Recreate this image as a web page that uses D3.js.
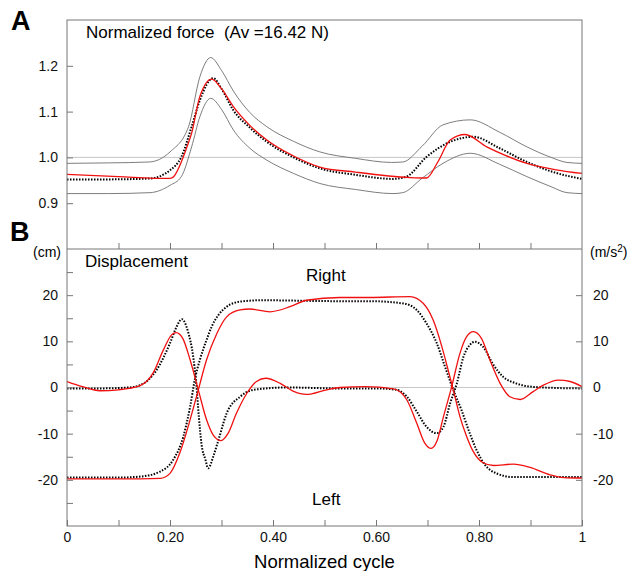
<!DOCTYPE html>
<html>
<head>
<meta charset="utf-8">
<script src="https://cdn.jsdelivr.net/npm/d3@7"></script>
<style>
  body { margin: 0; background: #fff; }
  svg { font-family: "Liberation Sans", Arial, sans-serif; }
  .tick line { stroke: #777; }
  .tick text { fill: #111; font-size: 14px; }
</style>
</head>
<body>
<div class="chart"></div>
<script>
// panel A: normalized force, [cycle, value]
var forceUpper = [[0,0.987],[0.08,0.988],[0.16,0.990],[0.2,1.012],[0.236,1.067],[0.258,1.176],[0.279,1.218],[0.30,1.19],[0.323,1.145],[0.355,1.098],[0.388,1.067],[0.44,1.035],[0.491,1.012],[0.56,0.998],[0.63,0.989],[0.652,0.990],[0.69,1.025],[0.73,1.071],[0.783,1.082],[0.84,1.055],[0.893,1.023],[0.94,1.0],[0.971,0.989],[1,0.987]];
var forceLower = [[0,0.921],[0.08,0.921],[0.161,0.923],[0.2,0.939],[0.222,0.958],[0.242,1.023],[0.258,1.089],[0.279,1.129],[0.30,1.105],[0.323,1.06],[0.355,1.02],[0.388,0.994],[0.44,0.965],[0.491,0.943],[0.56,0.93],[0.633,0.921],[0.652,0.923],[0.69,0.955],[0.73,0.987],[0.783,1.009],[0.84,0.985],[0.893,0.958],[0.94,0.936],[0.971,0.923],[1,0.921]];
var forceModel = [[0,0.963],[0.1,0.958],[0.2,0.954],[0.205,0.956],[0.232,1.02],[0.242,1.053],[0.258,1.133],[0.281,1.171],[0.30,1.15],[0.323,1.111],[0.355,1.07],[0.388,1.038],[0.44,1.003],[0.491,0.979],[0.56,0.968],[0.666,0.956],[0.698,0.955],[0.72,0.99],[0.744,1.038],[0.773,1.05],[0.815,1.023],[0.85,1.005],[0.893,0.987],[0.95,0.973],[1,0.965]];
var forceMeasured = [[0,0.952],[0.08,0.952],[0.161,0.954],[0.2,0.972],[0.222,1.001],[0.242,1.067],[0.258,1.125],[0.284,1.173],[0.30,1.15],[0.323,1.103],[0.355,1.065],[0.388,1.034],[0.44,1.0],[0.491,0.976],[0.56,0.962],[0.633,0.953],[0.659,0.958],[0.698,1.001],[0.744,1.034],[0.789,1.045],[0.84,1.02],[0.893,0.990],[0.95,0.966],[1,0.953]];

// panel B: displacement (cm) and acceleration (m/s2)
var accelMeasured = [[0,-0.2],[0.06,-0.2],[0.12,0.0],[0.142,0.5],[0.174,3.8],[0.2,9.6],[0.213,13.2],[0.223,14.8],[0.235,12.1],[0.245,6.7],[0.251,0.9],[0.256,-6.3],[0.261,-12.1],[0.269,-15.7],[0.274,-17.5],[0.285,-14.6],[0.294,-11.4],[0.31,-5.6],[0.336,-2.0],[0.362,-0.5],[0.427,0],[0.53,-0.2],[0.6,-0.2],[0.64,-0.5],[0.66,-2.0],[0.679,-5.2],[0.698,-8.5],[0.718,-9.9],[0.731,-8.5],[0.744,-3.4],[0.757,0.9],[0.77,6.7],[0.782,9.2],[0.792,9.9],[0.808,8.8],[0.828,4.9],[0.847,2.3],[0.872,0.9],[0.899,0.2],[0.95,-0.1],[1,-0.2]];
var accelModel = [[0,1.3],[0.03,0.2],[0.064,-0.7],[0.1,-0.5],[0.142,0.4],[0.167,3.1],[0.187,8.1],[0.203,11.4],[0.212,11.9],[0.225,10.6],[0.239,6.0],[0.255,-0.5],[0.271,-7.0],[0.284,-10.3],[0.299,-11.5],[0.313,-9.9],[0.329,-5.6],[0.349,-1.3],[0.368,1.3],[0.386,2.0],[0.414,0.9],[0.439,-0.8],[0.465,-1.5],[0.504,-0.5],[0.53,0],[0.58,0.2],[0.634,-0.3],[0.66,-2.7],[0.679,-7.7],[0.695,-12.1],[0.707,-13.2],[0.718,-11.7],[0.731,-6.3],[0.747,0.2],[0.763,7.4],[0.776,11.0],[0.789,12.1],[0.805,10.6],[0.821,6.0],[0.841,0.9],[0.86,-2.0],[0.88,-2.6],[0.905,-0.9],[0.925,0.5],[0.954,1.6],[0.977,1.3],[1,0.2]];
var displacementMeasured = [[0,-19.5],[0.1,-19.5],[0.142,-19.3],[0.181,-18.2],[0.206,-15.7],[0.226,-10.6],[0.239,-4.2],[0.248,1.6],[0.258,6.0],[0.271,10.3],[0.281,13.2],[0.294,15.7],[0.31,17.5],[0.336,18.6],[0.375,18.9],[0.53,18.7],[0.588,18.7],[0.653,18.2],[0.679,16.8],[0.698,13.9],[0.718,9.6],[0.734,4.5],[0.75,-0.5],[0.766,-4.9],[0.782,-9.9],[0.795,-13.5],[0.812,-16.8],[0.834,-18.6],[0.867,-19.4],[1,-19.4]];
var displacementModel = [[0,-19.8],[0.1,-19.8],[0.142,-19.8],[0.181,-19.7],[0.2,-18.6],[0.219,-14.2],[0.239,-7.0],[0.255,-0.5],[0.271,6.0],[0.291,11.7],[0.31,15.3],[0.336,16.8],[0.355,17.0],[0.394,16.4],[0.433,17.5],[0.465,18.9],[0.53,19.5],[0.588,19.5],[0.666,19.7],[0.692,18.2],[0.711,14.6],[0.728,8.8],[0.74,3.8],[0.75,-0.5],[0.763,-6.3],[0.776,-10.6],[0.789,-13.9],[0.808,-16.3],[0.828,-16.9],[0.867,-16.6],[0.899,-17.3],[0.938,-18.9],[0.964,-19.5],[1,-19.6]];

// tick values
var forceTicks = [0.9, 1.0, 1.1, 1.2];
var cmTicks = [-25, -20, -15, -10, -5, 0, 5, 10, 15, 20, 25];
var accelTicks = [-20, -10, 0, 10, 20];
var cycleTicks = [0, 0.1, 0.2, 0.3, 0.4, 0.5, 0.6, 0.7, 0.8, 0.9, 1];
var cycleLabels = {0: '0', 0.2: '0.20', 0.4: '0.40', 0.6: '0.60', 0.8: '0.80', 1: '1'};

var svgWidth = 630, svgHeight = 571;
var plotLeft = 67, plotRight = 582, plotTop = 20, plotMid = 249, plotBottom = 526;

var svg = d3.select('.chart').append('svg')
    .attr('width', svgWidth)
    .attr('height', svgHeight);

var xScale = d3.scaleLinear().domain([0, 1]).range([plotLeft, plotRight]);
var yForce = d3.scaleLinear().domain([0.8, 1.3]).range([plotMid, plotTop]);
var yB = d3.scaleLinear().domain([-30, 30]).range([plotBottom, plotMid]);

// reference lines
svg.append('line')
    .attr('x1', plotLeft).attr('x2', plotRight)
    .attr('y1', yForce(1)).attr('y2', yForce(1))
    .attr('stroke', '#c8c8c8').attr('stroke-width', 1);
svg.append('line')
    .attr('x1', plotLeft).attr('x2', plotRight)
    .attr('y1', yB(0)).attr('y2', yB(0))
    .attr('stroke', '#c8c8c8').attr('stroke-width', 1);

function drawLine(data, y, color, w, dash) {
    var line = d3.line()
        .x(function(d) { return xScale(d[0]); })
        .y(function(d) { return y(d[1]); })
        .curve(d3.curveMonotoneX);
    var p = svg.append('path')
        .datum(data)
        .attr('d', line)
        .attr('fill', 'none')
        .attr('stroke', color)
        .attr('stroke-width', w);
    if (dash) p.attr('stroke-dasharray', dash);
}

drawLine(forceUpper, yForce, '#6e6e6e', 0.9);
drawLine(forceLower, yForce, '#6e6e6e', 0.9);
drawLine(forceMeasured, yForce, '#000', 2, '1.5,1.5');
drawLine(forceModel, yForce, '#f01010', 1.3);

drawLine(accelMeasured, yB, '#000', 2, '1.5,1.5');
drawLine(displacementMeasured, yB, '#000', 2, '1.5,1.5');
drawLine(accelModel, yB, '#f01010', 1.3);
drawLine(displacementModel, yB, '#f01010', 1.3);

// axes (ticks point inward)
var axForce = d3.axisLeft(yForce).tickValues(forceTicks).tickSize(-6).tickPadding(9)
    .tickFormat(d3.format('.1f'));
svg.append('g').attr('transform', 'translate(' + plotLeft + ',0)').call(axForce);

var axMidX = d3.axisBottom(xScale).tickValues(cycleTicks.slice(1, -1)).tickSize(-6).tickFormat('');
svg.append('g').attr('transform', 'translate(0,' + plotMid + ')').call(axMidX);

var axCm = d3.axisLeft(yB).tickValues(cmTicks).tickSize(-6).tickPadding(9)
    .tickFormat(function(d) { return d % 10 === 0 ? String(d) : ''; });
svg.append('g').attr('transform', 'translate(' + plotLeft + ',0)').call(axCm);

var axAccel = d3.axisRight(yB).tickValues(accelTicks).tickSize(-6).tickPadding(11)
    .tickFormat(function(d) { return String(d); });
svg.append('g').attr('transform', 'translate(' + plotRight + ',0)').call(axAccel);

var axBottom = d3.axisBottom(xScale).tickValues(cycleTicks).tickSize(-6).tickPadding(6)
    .tickFormat(function(d) { return cycleLabels[d] || ''; });
svg.append('g').attr('transform', 'translate(0,' + plotBottom + ')').call(axBottom);

svg.selectAll('.domain').remove();

// frame
var frame = svg.append('g').attr('stroke', '#777').attr('stroke-width', 1).attr('fill', 'none');
frame.append('rect').attr('x', plotLeft).attr('y', plotTop)
    .attr('width', plotRight - plotLeft).attr('height', plotBottom - plotTop);
frame.append('line').attr('x1', plotLeft).attr('x2', plotRight).attr('y1', plotMid).attr('y2', plotMid);

// labels
svg.append('text').attr('x', 11).attr('y', 30).style('font-size', '27px').style('font-weight', 'bold').text('A');
svg.append('text').attr('x', 10).attr('y', 241).style('font-size', '27px').style('font-weight', 'bold').text('B');

svg.append('text').attr('x', 86).attr('y', 38).style('font-size', '17px')
    .style('white-space', 'pre').text('Normalized force  (Av =16.42 N)');
svg.append('text').attr('x', 85).attr('y', 267).style('font-size', '17px').text('Displacement');
svg.append('text').attr('x', 306).attr('y', 281).style('font-size', '17px').text('Right');
svg.append('text').attr('x', 312).attr('y', 505).style('font-size', '17px').text('Left');

svg.append('text').attr('x', 33).attr('y', 257).style('font-size', '14px').text('(cm)');
var unit = svg.append('text').attr('x', 590).attr('y', 257).style('font-size', '14px');
unit.append('tspan').text('(m/s');
unit.append('tspan').attr('dy', -5).style('font-size', '10px').text('2');
unit.append('tspan').attr('dy', 5).text(')');

svg.append('text').attr('x', (plotLeft + plotRight) / 2).attr('y', 568)
    .style('font-size', '18.5px').style('text-anchor', 'middle').text('Normalized cycle');
</script>
</body>
</html>
